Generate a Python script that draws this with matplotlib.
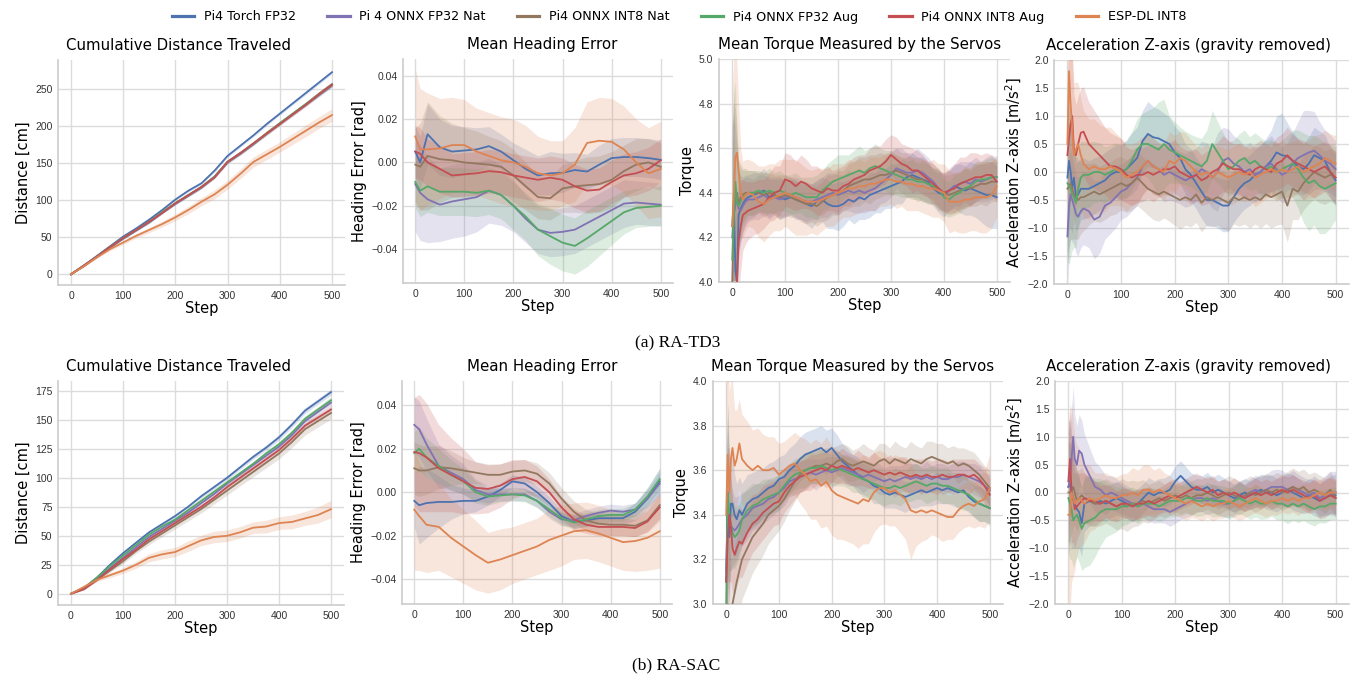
import numpy as np
import matplotlib
matplotlib.use("Agg")
import matplotlib.pyplot as plt
from matplotlib.ticker import MultipleLocator
from matplotlib.lines import Line2D

# ---------------- series ----------------
series_names = ["Pi4 Torch FP32", "Pi 4 ONNX FP32 Nat", "Pi4 ONNX INT8 Nat",
                "Pi4 ONNX FP32 Aug", "Pi4 ONNX INT8 Aug", "ESP-DL INT8"]
series_colors = ["#4C72B0", "#8172B3", "#937860", "#55A868", "#C44E52", "#DD8452"]

# ---------------- x steps ----------------
steps_dist = list(range(0, 501, 25))
steps_head = [0, 10, 25, 50, 75, 100, 125, 150, 175, 200, 225, 250, 275, 300,
              325, 350, 375, 400, 425, 450, 475, 500]
steps_noisy = [0, 3, 6, 9, 12, 16, 20, 25, 30] + list(range(40, 501, 10))

# ================= RA-TD3 : distance =================
td3_dist_torch = [0, 12, 25, 38, 51, 62, 74, 87, 101, 113, 123, 140, 160, 174, 188, 203, 217, 231, 245, 259, 273]
td3_dist_fp32nat = [0, 11, 24, 36, 48, 59, 70, 83, 95, 106, 117, 131, 151, 163, 176, 190, 203, 216, 229, 242, 255]
td3_dist_int8nat = [0, 12, 24, 37, 49, 60, 71, 84, 96, 107, 118, 132, 152, 164, 177, 191, 204, 217, 230, 244, 257]
td3_dist_fp32aug = [0, 12, 24, 37, 49, 60, 71, 84, 96, 107, 118, 132, 152, 164, 177, 190, 204, 217, 230, 243, 256]
td3_dist_int8aug = [0, 12, 24, 37, 49, 60, 71, 83, 96, 107, 118, 131, 152, 164, 177, 190, 203, 216, 229, 243, 256]
td3_dist_esp = [0, 11, 23, 34, 43, 52, 60, 68, 77, 87, 98, 108, 121, 136, 152, 162, 172, 183, 194, 205, 215]
td3_dist_torch_ci = [0, 0.5, 0.8, 1, 1, 1.2, 1.3, 1.4, 1.5, 1.6, 1.7, 1.8, 1.8, 1.9, 2, 2, 2, 2.1, 2.2, 2.2, 2.3]
td3_dist_fp32nat_ci = [0, 0.5, 0.8, 1, 1.1, 1.2, 1.3, 1.4, 1.5, 1.6, 1.7, 1.8, 1.9, 2, 2, 2.1, 2.2, 2.2, 2.3, 2.4, 2.5]
td3_dist_int8nat_ci = [0, 0.5, 0.8, 1, 1.1, 1.2, 1.3, 1.4, 1.5, 1.6, 1.7, 1.8, 1.9, 2, 2, 2.1, 2.2, 2.2, 2.3, 2.4, 2.5]
td3_dist_fp32aug_ci = [0, 0.5, 0.8, 1, 1.1, 1.2, 1.3, 1.4, 1.5, 1.6, 1.7, 1.8, 1.9, 2, 2, 2.1, 2.2, 2.2, 2.3, 2.4, 2.5]
td3_dist_int8aug_ci = [0, 0.5, 0.8, 1, 1.1, 1.2, 1.3, 1.4, 1.5, 1.6, 1.7, 1.8, 1.9, 2, 2, 2.1, 2.2, 2.2, 2.3, 2.4, 2.5]
td3_dist_esp_ci = [0, 1, 1.5, 2, 2.5, 3, 3.5, 4, 4.5, 5, 5.5, 6, 6, 6.5, 7, 7, 7, 7.5, 8, 8, 8.5]

# ================= RA-TD3 : heading =================
td3_head_torch = [0.005, 0.000, 0.013, 0.007, 0.005, 0.0055, 0.006, 0.0075, 0.005, 0.001, -0.003, -0.006, -0.005, -0.0048, -0.0035, -0.0042, -0.001, 0.002, 0.0025, 0.0025, 0.002, 0.0012]
td3_head_fp32nat = [-0.010, -0.014, -0.017, -0.0195, -0.018, -0.017, -0.016, -0.013, -0.015, -0.020, -0.026, -0.031, -0.0325, -0.032, -0.031, -0.028, -0.025, -0.022, -0.019, -0.0185, -0.019, -0.0195]
td3_head_int8nat = [-0.001, -0.002, 0.003, 0.0015, 0.001, 0.0, -0.0005, -0.001, -0.002, -0.006, -0.011, -0.016, -0.0165, -0.012, -0.011, -0.0105, -0.010, -0.008, -0.004, -0.001, 0.0, -0.002]
td3_head_fp32aug = [-0.009, -0.013, -0.011, -0.0135, -0.0135, -0.0135, -0.014, -0.013, -0.015, -0.020, -0.025, -0.031, -0.034, -0.037, -0.0385, -0.035, -0.031, -0.027, -0.023, -0.021, -0.0205, -0.020]
td3_head_int8aug = [0.005, 0.004, 0.0, -0.003, -0.006, -0.0055, -0.005, -0.004, -0.0045, -0.006, -0.007, -0.008, -0.007, -0.008, -0.011, -0.013, -0.0125, -0.009, -0.006, -0.005, -0.003, 0.001]
td3_head_esp = [0.012, 0.006, 0.006, 0.0065, 0.008, 0.008, 0.005, 0.003, 0.001, 0.0, -0.002, -0.005, -0.006, -0.005, -0.001, 0.009, 0.010, 0.0095, 0.006, 0.000, -0.005, -0.003]
td3_head_torch_ci = [0.012, 0.012, 0.014, 0.013, 0.012, 0.011, 0.010, 0.009, 0.008, 0.008, 0.009, 0.009, 0.010, 0.009, 0.008, 0.008, 0.009, 0.009, 0.009, 0.009, 0.009, 0.009]
td3_head_fp32nat_ci = [0.022, 0.022, 0.020, 0.017, 0.017, 0.017, 0.016, 0.015, 0.014, 0.012, 0.011, 0.011, 0.011, 0.011, 0.011, 0.011, 0.011, 0.011, 0.011, 0.010, 0.010, 0.010]
td3_head_int8nat_ci = [0.017, 0.020, 0.025, 0.020, 0.017, 0.016, 0.015, 0.013, 0.012, 0.012, 0.011, 0.010, 0.010, 0.011, 0.012, 0.013, 0.013, 0.013, 0.012, 0.012, 0.011, 0.011]
td3_head_fp32aug_ci = [0.012, 0.012, 0.012, 0.011, 0.011, 0.011, 0.011, 0.011, 0.011, 0.011, 0.011, 0.012, 0.013, 0.013, 0.013, 0.013, 0.012, 0.011, 0.010, 0.009, 0.009, 0.009]
td3_head_int8aug_ci = [0.012, 0.012, 0.011, 0.011, 0.010, 0.010, 0.010, 0.010, 0.010, 0.010, 0.010, 0.010, 0.010, 0.010, 0.010, 0.010, 0.010, 0.010, 0.010, 0.010, 0.010, 0.010]
td3_head_esp_ci = [0.031, 0.028, 0.026, 0.023, 0.022, 0.021, 0.020, 0.020, 0.020, 0.020, 0.019, 0.017, 0.016, 0.015, 0.017, 0.019, 0.020, 0.020, 0.020, 0.020, 0.021, 0.022]

# ================= RA-TD3 : torque =================
td3_torq_torch = [4.25, 4.36, 4.05, 4.00, 4.30, 4.33, 4.35, 4.37, 4.38,
                  4.39, 4.40, 4.41, 4.38, 4.39, 4.38, 4.37, 4.38, 4.37, 4.36,
                  4.35, 4.34, 4.36, 4.37, 4.35, 4.34, 4.34, 4.35, 4.37, 4.36,
                  4.38, 4.37, 4.39, 4.40, 4.41, 4.42, 4.43, 4.44, 4.45, 4.47,
                  4.48, 4.47, 4.46, 4.45, 4.42, 4.40, 4.39, 4.41, 4.43, 4.42,
                  4.41, 4.42, 4.41, 4.40, 4.39, 4.39, 4.38]
td3_torq_fp32nat = [4.20, 4.30, 4.35, 4.36, 4.33, 4.32, 4.34, 4.36, 4.37,
                    4.37, 4.38, 4.39, 4.37, 4.38, 4.37, 4.38, 4.39, 4.38, 4.37,
                    4.36, 4.36, 4.37, 4.38, 4.39, 4.40, 4.39, 4.40, 4.41, 4.40,
                    4.41, 4.40, 4.41, 4.42, 4.44, 4.46, 4.48, 4.51, 4.50, 4.49,
                    4.49, 4.50, 4.49, 4.47, 4.45, 4.42, 4.40, 4.41, 4.43, 4.44,
                    4.45, 4.44, 4.46, 4.45, 4.46, 4.47, 4.47]
td3_torq_int8nat = [4.00, 4.30, 4.38, 4.40, 4.35, 4.38, 4.39, 4.40, 4.40,
                    4.40, 4.40, 4.39, 4.40, 4.39, 4.38, 4.39, 4.38, 4.37, 4.36,
                    4.35, 4.35, 4.34, 4.36, 4.38, 4.39, 4.40, 4.41, 4.43, 4.44,
                    4.45, 4.46, 4.46, 4.47, 4.48, 4.48, 4.49, 4.50, 4.49, 4.48,
                    4.47, 4.46, 4.46, 4.44, 4.43, 4.41, 4.40, 4.39, 4.40, 4.41,
                    4.42, 4.42, 4.43, 4.44, 4.44, 4.45, 4.45]
td3_torq_fp32aug = [4.10, 4.30, 4.45, 4.36, 4.34, 4.36, 4.38, 4.39, 4.40,
                    4.40, 4.41, 4.40, 4.41, 4.40, 4.41, 4.40, 4.39, 4.40, 4.39,
                    4.38, 4.38, 4.38, 4.41, 4.43, 4.45, 4.46, 4.47, 4.48, 4.49,
                    4.50, 4.49, 4.51, 4.52, 4.51, 4.50, 4.49, 4.48, 4.47, 4.46,
                    4.46, 4.45, 4.45, 4.44, 4.43, 4.42, 4.38, 4.37, 4.39, 4.40,
                    4.42, 4.43, 4.45, 4.46, 4.46, 4.47, 4.47]
td3_torq_int8aug = [3.80, 3.85, 3.90, 4.00, 4.18, 4.25, 4.30, 4.31, 4.32,
                    4.33, 4.34, 4.35, 4.38, 4.40, 4.41, 4.46, 4.45, 4.43, 4.45,
                    4.44, 4.42, 4.41, 4.40, 4.42, 4.41, 4.41, 4.43, 4.44, 4.46,
                    4.47, 4.48, 4.50, 4.51, 4.52, 4.54, 4.57, 4.55, 4.53, 4.52,
                    4.50, 4.50, 4.48, 4.46, 4.44, 4.42, 4.40, 4.41, 4.42, 4.44,
                    4.45, 4.46, 4.47, 4.47, 4.48, 4.48, 4.45]
td3_torq_esp = [4.25, 4.40, 4.56, 4.58, 4.50, 4.40, 4.37, 4.39, 4.40,
                4.39, 4.36, 4.35, 4.37, 4.38, 4.39, 4.40, 4.39, 4.38, 4.37,
                4.36, 4.36, 4.36, 4.37, 4.38, 4.39, 4.40, 4.41, 4.42, 4.42,
                4.43, 4.43, 4.44, 4.44, 4.45, 4.46, 4.46, 4.45, 4.45, 4.44,
                4.44, 4.43, 4.43, 4.42, 4.42, 4.41, 4.40, 4.36, 4.36, 4.36,
                4.37, 4.37, 4.38, 4.38, 4.38, 4.39, 4.43]
td3_torq_torch_ci = [0.45, 0.50, 0.40, 0.30, 0.20, 0.15, 0.12, 0.11, 0.10,
                     0.10, 0.09, 0.10, 0.09, 0.08, 0.09, 0.08, 0.08, 0.09, 0.08,
                     0.09, 0.10, 0.09, 0.10, 0.11, 0.10, 0.11, 0.10, 0.09, 0.10,
                     0.10, 0.09, 0.10, 0.09, 0.10, 0.09, 0.10, 0.09, 0.10, 0.09,
                     0.10, 0.09, 0.10, 0.09, 0.08, 0.09, 0.10, 0.09, 0.10, 0.11,
                     0.11, 0.12, 0.12, 0.13, 0.14, 0.15, 0.14]
td3_torq_fp32nat_ci = [0.50, 0.45, 0.35, 0.25, 0.18, 0.14, 0.12, 0.11, 0.10,
                       0.09, 0.10, 0.09, 0.09, 0.08, 0.09, 0.09, 0.08, 0.09, 0.09,
                       0.09, 0.08, 0.09, 0.09, 0.10, 0.09, 0.09, 0.08, 0.09, 0.09,
                       0.10, 0.09, 0.09, 0.10, 0.09, 0.10, 0.10, 0.09, 0.10, 0.09,
                       0.09, 0.10, 0.09, 0.09, 0.08, 0.09, 0.08, 0.09, 0.09, 0.10,
                       0.09, 0.10, 0.10, 0.09, 0.10, 0.10, 0.09]
td3_torq_int8nat_ci = [0.55, 0.50, 0.40, 0.30, 0.20, 0.15, 0.12, 0.11, 0.10,
                       0.10, 0.09, 0.10, 0.09, 0.09, 0.10, 0.09, 0.09, 0.08, 0.09,
                       0.09, 0.08, 0.09, 0.09, 0.10, 0.09, 0.10, 0.09, 0.10, 0.10,
                       0.11, 0.10, 0.11, 0.10, 0.10, 0.09, 0.10, 0.10, 0.09, 0.10,
                       0.09, 0.10, 0.09, 0.09, 0.08, 0.09, 0.08, 0.09, 0.09, 0.08,
                       0.09, 0.08, 0.09, 0.09, 0.10, 0.09, 0.09]
td3_torq_fp32aug_ci = [0.50, 0.55, 0.45, 0.30, 0.20, 0.15, 0.12, 0.11, 0.10,
                       0.10, 0.09, 0.09, 0.10, 0.09, 0.09, 0.08, 0.09, 0.09, 0.08,
                       0.09, 0.09, 0.10, 0.09, 0.10, 0.10, 0.11, 0.10, 0.09, 0.10,
                       0.11, 0.10, 0.09, 0.10, 0.09, 0.09, 0.10, 0.09, 0.09, 0.08,
                       0.09, 0.08, 0.09, 0.09, 0.08, 0.09, 0.08, 0.08, 0.09, 0.09,
                       0.09, 0.08, 0.09, 0.08, 0.09, 0.09, 0.08]
td3_torq_int8aug_ci = [0.60, 0.55, 0.45, 0.35, 0.25, 0.20, 0.16, 0.14, 0.13,
                       0.12, 0.12, 0.11, 0.11, 0.12, 0.11, 0.12, 0.12, 0.11, 0.12,
                       0.11, 0.10, 0.11, 0.10, 0.10, 0.09, 0.10, 0.09, 0.10, 0.10,
                       0.10, 0.09, 0.10, 0.10, 0.09, 0.10, 0.09, 0.10, 0.09, 0.09,
                       0.10, 0.09, 0.09, 0.08, 0.09, 0.08, 0.09, 0.10, 0.11, 0.12,
                       0.11, 0.12, 0.11, 0.10, 0.10, 0.09, 0.09]
td3_torq_esp_ci = [0.60, 0.60, 0.50, 0.40, 0.30, 0.20, 0.17, 0.16, 0.15,
                   0.15, 0.16, 0.17, 0.16, 0.15, 0.16, 0.15, 0.16, 0.17, 0.16,
                   0.15, 0.14, 0.15, 0.14, 0.13, 0.14, 0.13, 0.12, 0.13, 0.12,
                   0.12, 0.11, 0.12, 0.12, 0.11, 0.12, 0.11, 0.12, 0.11, 0.12,
                   0.12, 0.11, 0.12, 0.12, 0.13, 0.12, 0.13, 0.14, 0.13, 0.14,
                   0.15, 0.14, 0.15, 0.16, 0.16, 0.15, 0.14]

# ================= RA-TD3 : acceleration =================
td3_acc_torch = [-0.10, 0.20, 0.00, -0.30, -0.10, -0.45, -0.40, -0.30, -0.30,
                 -0.30, -0.25, -0.20, -0.15, -0.05, 0.00, 0.00, 0.05, 0.15, 0.25,
                 0.55, 0.68, 0.62, 0.60, 0.55, 0.50, 0.35, 0.25, 0.05, -0.05,
                 -0.20, -0.35, -0.50, -0.50, -0.55, -0.60, -0.60, -0.45, -0.30, -0.20,
                 -0.15, -0.05, 0.00, 0.10, 0.20, 0.35, 0.30, 0.28, 0.20, 0.10,
                 0.05, 0.15, 0.30, 0.25, 0.20, 0.00, -0.15]
td3_acc_fp32nat = [-1.15, -0.60, -0.40, -0.50, -0.60, -0.75, -0.80, -0.70, -0.65,
                   -0.70, -0.85, -0.80, -0.60, -0.55, -0.45, -0.35, -0.30, -0.20, -0.10,
                   0.10, 0.20, 0.10, 0.05, -0.05, 0.00, -0.05, -0.10, -0.15, -0.10,
                   -0.05, 0.05, 0.00, -0.10, 0.00, 0.20, 0.25, 0.15, 0.10, 0.00,
                   0.05, -0.05, 0.00, 0.10, 0.15, 0.05, -0.05, 0.00, 0.15, 0.25,
                   0.30, 0.35, 0.38, 0.30, 0.20, 0.15, 0.05]
td3_acc_int8nat = [-0.30, -0.25, -0.20, -0.30, -0.40, -0.45, -0.50, -0.45, -0.45,
                   -0.40, -0.35, -0.40, -0.35, -0.30, -0.25, -0.20, -0.25, -0.20, -0.10,
                   -0.20, -0.30, -0.35, -0.40, -0.35, -0.40, -0.45, -0.50, -0.45, -0.50,
                   -0.40, -0.55, -0.45, -0.50, -0.45, -0.50, -0.55, -0.45, -0.50, -0.45,
                   -0.50, -0.45, -0.50, -0.40, -0.45, -0.40, -0.35, -0.60, -0.30, -0.35,
                   -0.20, -0.10, 0.00, -0.05, -0.10, -0.05, -0.10]
td3_acc_fp32aug = [-0.20, -0.25, -0.30, -0.40, -0.45, -0.55, -0.30, -0.10, -0.05,
                   -0.05, 0.00, 0.00, -0.05, 0.00, 0.05, 0.00, 0.05, 0.20, 0.40,
                   0.50, 0.50, 0.45, 0.40, 0.50, 0.40, 0.35, 0.30, 0.25, 0.20,
                   0.15, 0.10, 0.20, 0.50, 0.35, 0.20, 0.05, 0.10, 0.20, 0.25,
                   0.15, 0.20, 0.10, 0.05, 0.10, 0.00, 0.05, 0.10, 0.15, 0.05,
                   -0.10, -0.20, -0.15, -0.25, -0.30, -0.25, -0.20]
td3_acc_int8aug = [0.30, 0.60, 0.85, 1.00, 0.40, 0.30, 0.50, 0.70, 0.72,
                   0.50, 0.40, 0.30, 0.20, 0.10, 0.10, 0.05, -0.05, -0.10, -0.05,
                   -0.05, 0.00, -0.05, 0.00, 0.05, 0.05, 0.10, 0.00, -0.05, -0.10,
                   -0.05, -0.15, -0.10, 0.00, 0.05, 0.15, 0.10, 0.05, 0.05, 0.00,
                   -0.05, 0.05, 0.10, 0.05, 0.00, 0.15, 0.20, 0.30, 0.20, 0.15,
                   0.10, 0.05, 0.00, 0.05, 0.10, 0.00, -0.10]
td3_acc_esp = [0.50, 1.80, 1.20, 0.80, 0.30, 0.40, 0.50, 0.30, 0.15,
               0.05, 0.10, 0.05, 0.05, 0.10, 0.05, 0.00, -0.10, -0.05, 0.00,
               0.10, 0.20, 0.10, 0.05, 0.00, 0.20, 0.15, 0.25, 0.20, 0.10,
               0.00, -0.05, 0.00, -0.10, 0.00, -0.05, -0.10, -0.05, 0.00, -0.05,
               0.00, -0.10, -0.05, 0.00, 0.05, 0.00, 0.05, 0.00, 0.05, 0.10,
               0.00, 0.05, 0.10, 0.15, 0.25, 0.20, 0.15]
td3_acc_torch_ci = [1.50, 1.20, 1.00, 0.80, 0.70, 0.60, 0.60, 0.55, 0.55,
                    0.50, 0.50, 0.48, 0.50, 0.47, 0.48, 0.50, 0.52, 0.55, 0.55,
                    0.55, 0.58, 0.55, 0.52, 0.50, 0.48, 0.47, 0.46, 0.45, 0.47,
                    0.46, 0.48, 0.47, 0.46, 0.45, 0.47, 0.46, 0.45, 0.47, 0.46,
                    0.45, 0.46, 0.48, 0.50, 0.55, 0.65, 0.75, 0.60, 0.52, 0.48,
                    0.46, 0.48, 0.50, 0.48, 0.46, 0.45, 0.46]
td3_acc_fp32nat_ci = [1.00, 0.90, 0.80, 0.75, 0.70, 0.70, 0.70, 0.65, 0.65,
                      0.65, 0.70, 0.65, 0.60, 0.55, 0.55, 0.50, 0.50, 0.50, 0.50,
                      0.50, 0.48, 0.50, 0.47, 0.48, 0.50, 0.48, 0.47, 0.48, 0.50,
                      0.48, 0.50, 0.52, 0.55, 0.70, 0.60, 0.52, 0.50, 0.48, 0.47,
                      0.48, 0.50, 0.48, 0.47, 0.50, 0.48, 0.50, 0.52, 0.55, 0.65,
                      0.80, 0.75, 0.70, 0.60, 0.55, 0.52, 0.50]
td3_acc_int8nat_ci = [1.20, 1.10, 1.00, 0.90, 0.80, 0.75, 0.70, 0.65, 0.60,
                      0.55, 0.52, 0.50, 0.50, 0.48, 0.50, 0.48, 0.47, 0.48, 0.50,
                      0.48, 0.47, 0.50, 0.48, 0.47, 0.48, 0.50, 0.52, 0.50, 0.48,
                      0.50, 0.52, 0.50, 0.48, 0.50, 0.52, 0.50, 0.48, 0.47, 0.48,
                      0.50, 0.48, 0.50, 0.52, 0.55, 0.55, 0.58, 0.65, 0.55, 0.50,
                      0.48, 0.47, 0.48, 0.50, 0.48, 0.47, 0.48]
td3_acc_fp32aug_ci = [1.40, 1.40, 1.20, 1.00, 0.90, 0.80, 0.70, 0.65, 0.60,
                      0.58, 0.55, 0.52, 0.50, 0.48, 0.47, 0.48, 0.50, 0.52, 0.55,
                      0.55, 0.60, 0.70, 0.85, 0.80, 0.60, 0.55, 0.50, 0.48, 0.47,
                      0.48, 0.50, 0.55, 0.60, 0.55, 0.50, 0.48, 0.47, 0.48, 0.50,
                      0.48, 0.50, 0.52, 0.50, 0.48, 0.50, 0.52, 0.55, 0.60, 0.70,
                      0.80, 0.85, 0.80, 0.85, 0.80, 0.75, 0.65]
td3_acc_int8aug_ci = [1.50, 1.50, 1.30, 1.10, 1.00, 0.90, 0.85, 0.80, 0.80,
                      0.75, 0.70, 0.65, 0.60, 0.60, 0.55, 0.55, 0.50, 0.50, 0.50,
                      0.48, 0.47, 0.48, 0.46, 0.45, 0.47, 0.48, 0.46, 0.45, 0.47,
                      0.46, 0.45, 0.47, 0.46, 0.48, 0.50, 0.47, 0.45, 0.46, 0.48,
                      0.46, 0.45, 0.47, 0.46, 0.45, 0.47, 0.48, 0.50, 0.47, 0.45,
                      0.46, 0.45, 0.47, 0.46, 0.45, 0.47, 0.46]
td3_acc_esp_ci = [1.80, 1.60, 1.50, 1.40, 1.30, 1.20, 1.10, 1.00, 0.95,
                  0.90, 0.85, 0.80, 0.75, 0.70, 0.65, 0.60, 0.60, 0.55, 0.55,
                  0.52, 0.50, 0.50, 0.48, 0.50, 0.52, 0.50, 0.48, 0.50, 0.48,
                  0.47, 0.48, 0.50, 0.48, 0.47, 0.48, 0.50, 0.52, 0.50, 0.48,
                  0.50, 0.52, 0.50, 0.48, 0.50, 0.52, 0.50, 0.48, 0.50, 0.48,
                  0.50, 0.52, 0.55, 0.52, 0.50, 0.48, 0.50]

# ================= RA-SAC : distance =================
sac_dist_torch = [0, 5, 14, 25, 35, 44, 53, 60, 67, 75, 84, 92, 100, 109, 118, 126, 135, 146, 158, 166, 174]
sac_dist_fp32nat = [0, 5, 13, 22, 31, 40, 49, 56, 63, 70, 78, 86, 95, 103, 111, 119, 127, 137, 149, 157, 165]
sac_dist_int8nat = [0, 4, 12, 20, 28, 37, 45, 52, 59, 66, 73, 81, 89, 97, 105, 113, 121, 131, 142, 149, 156]
sac_dist_fp32aug = [0, 5, 14, 24, 33, 42, 51, 58, 64, 72, 80, 88, 96, 104, 112, 121, 129, 139, 151, 159, 167]
sac_dist_int8aug = [0, 4, 12, 21, 30, 38, 47, 54, 61, 68, 75, 83, 92, 100, 108, 116, 124, 134, 145, 152, 159]
sac_dist_esp = [0, 6, 12, 16, 20, 25, 31, 34, 36, 41, 46, 49, 50, 53, 57, 58, 61, 62, 65, 68, 73]
sac_dist_torch_ci = [0, 0.5, 0.8, 1, 1.2, 1.3, 1.4, 1.5, 1.6, 1.7, 1.8, 1.9, 2, 2, 2.1, 2.2, 2.3, 2.4, 2.5, 2.5, 2.6]
sac_dist_fp32nat_ci = [0, 0.5, 0.8, 1, 1.2, 1.3, 1.4, 1.5, 1.6, 1.7, 1.8, 1.9, 2, 2.1, 2.2, 2.3, 2.4, 2.5, 2.6, 2.7, 2.8]
sac_dist_int8nat_ci = [0, 0.8, 1.2, 1.6, 2, 2.3, 2.6, 2.8, 3, 3.2, 3.4, 3.6, 3.8, 4, 4.2, 4.4, 4.6, 4.8, 5, 5.1, 5.2]
sac_dist_fp32aug_ci = [0, 0.5, 0.8, 1, 1.2, 1.3, 1.4, 1.5, 1.6, 1.7, 1.8, 1.9, 2, 2.1, 2.2, 2.3, 2.4, 2.5, 2.6, 2.7, 2.8]
sac_dist_int8aug_ci = [0, 0.5, 0.8, 1, 1.2, 1.4, 1.5, 1.6, 1.8, 1.9, 2, 2.1, 2.2, 2.3, 2.4, 2.5, 2.6, 2.7, 2.8, 2.9, 3]
sac_dist_esp_ci = [0, 1, 1.5, 2, 2.5, 3, 3.5, 4, 4, 4.5, 4.5, 5, 5, 5, 5, 5.5, 5.5, 6, 6, 7, 7.5]

# ================= RA-SAC : heading =================
sac_head_torch = [-0.004, -0.006, -0.005, -0.0045, -0.0045, -0.004, -0.004, -0.002, 0.001, 0.005, 0.004, 0.0, -0.005, -0.011, -0.0135, -0.013, -0.012, -0.012, -0.012, -0.009, -0.003, 0.005]
sac_head_fp32nat = [0.031, 0.029, 0.022, 0.012, 0.009, 0.006, 0.001, -0.001, -0.001, -0.001, -0.001, -0.004, -0.009, -0.0125, -0.013, -0.011, -0.0095, -0.0085, -0.009, -0.008, -0.003, 0.004]
sac_head_int8nat = [0.011, 0.010, 0.010, 0.0115, 0.011, 0.010, 0.009, 0.008, 0.008, 0.0095, 0.010, 0.0085, 0.004, -0.003, -0.009, -0.013, -0.0145, -0.015, -0.015, -0.0155, -0.013, -0.006]
sac_head_fp32aug = [0.018, 0.020, 0.016, 0.012, 0.008, 0.005, 0.0, -0.002, -0.0015, -0.001, -0.0015, -0.004, -0.008, -0.012, -0.014, -0.0125, -0.011, -0.0105, -0.0105, -0.008, -0.002, 0.006]
sac_head_int8aug = [0.0185, 0.018, 0.016, 0.011, 0.008, 0.005, 0.002, 0.0015, 0.003, 0.006, 0.007, 0.005, 0.0, -0.007, -0.0125, -0.015, -0.016, -0.016, -0.016, -0.0165, -0.0135, -0.007]
sac_head_esp = [-0.008, -0.011, -0.015, -0.016, -0.021, -0.025, -0.029, -0.0325, -0.031, -0.029, -0.027, -0.025, -0.022, -0.020, -0.018, -0.0175, -0.019, -0.021, -0.023, -0.0225, -0.021, -0.018]
sac_head_torch_ci = [0.012, 0.018, 0.016, 0.012, 0.008, 0.006, 0.005, 0.004, 0.003, 0.003, 0.003, 0.003, 0.003, 0.003, 0.003, 0.003, 0.003, 0.003, 0.003, 0.004, 0.005, 0.006]
sac_head_fp32nat_ci = [0.013, 0.013, 0.012, 0.010, 0.008, 0.007, 0.005, 0.004, 0.003, 0.003, 0.003, 0.003, 0.003, 0.003, 0.003, 0.003, 0.003, 0.003, 0.003, 0.003, 0.004, 0.005]
sac_head_int8nat_ci = [0.012, 0.012, 0.011, 0.010, 0.008, 0.006, 0.005, 0.005, 0.005, 0.005, 0.005, 0.005, 0.005, 0.005, 0.005, 0.005, 0.005, 0.005, 0.005, 0.005, 0.005, 0.006]
sac_head_fp32aug_ci = [0.010, 0.010, 0.009, 0.008, 0.007, 0.006, 0.005, 0.004, 0.003, 0.003, 0.003, 0.003, 0.003, 0.003, 0.003, 0.003, 0.003, 0.003, 0.003, 0.003, 0.004, 0.005]
sac_head_int8aug_ci = [0.025, 0.027, 0.025, 0.020, 0.017, 0.015, 0.012, 0.011, 0.010, 0.009, 0.008, 0.007, 0.006, 0.005, 0.005, 0.004, 0.004, 0.004, 0.004, 0.004, 0.005, 0.006]
sac_head_esp_ci = [0.028, 0.025, 0.022, 0.020, 0.018, 0.017, 0.016, 0.014, 0.014, 0.013, 0.013, 0.013, 0.014, 0.014, 0.013, 0.013, 0.013, 0.013, 0.013, 0.014, 0.015, 0.017]

# ================= RA-SAC : torque =================
sac_torq_torch = [3.10, 3.50, 3.30, 3.45, 3.45, 3.40, 3.38, 3.42, 3.40,
                  3.45, 3.47, 3.48, 3.50, 3.52, 3.53, 3.56, 3.57, 3.60, 3.62,
                  3.65, 3.67, 3.68, 3.69, 3.70, 3.68, 3.70, 3.67, 3.64, 3.62,
                  3.60, 3.58, 3.56, 3.55, 3.53, 3.52, 3.50, 3.49, 3.50, 3.49,
                  3.48, 3.49, 3.50, 3.51, 3.50, 3.51, 3.52, 3.51, 3.52, 3.51,
                  3.50, 3.51, 3.48, 3.46, 3.45, 3.44, 3.43]
sac_torq_fp32nat = [3.15, 3.45, 3.40, 3.35, 3.34, 3.33, 3.34, 3.36, 3.38,
                    3.40, 3.43, 3.44, 3.45, 3.47, 3.48, 3.50, 3.52, 3.55, 3.56,
                    3.57, 3.58, 3.59, 3.58, 3.59, 3.60, 3.59, 3.60, 3.61, 3.60,
                    3.59, 3.58, 3.57, 3.58, 3.57, 3.56, 3.55, 3.56, 3.55, 3.56,
                    3.57, 3.56, 3.57, 3.56, 3.57, 3.56, 3.57, 3.56, 3.56, 3.57,
                    3.57, 3.58, 3.57, 3.56, 3.55, 3.53, 3.51]
sac_torq_int8nat = [2.90, 3.00, 2.95, 2.95, 3.00, 3.05, 3.10, 3.15, 3.20,
                    3.25, 3.30, 3.33, 3.36, 3.40, 3.42, 3.44, 3.47, 3.51, 3.55,
                    3.58, 3.60, 3.61, 3.62, 3.62, 3.63, 3.62, 3.64, 3.65, 3.63,
                    3.62, 3.63, 3.64, 3.63, 3.62, 3.64, 3.65, 3.63, 3.65, 3.64,
                    3.63, 3.65, 3.64, 3.63, 3.65, 3.66, 3.65, 3.64, 3.63, 3.64,
                    3.62, 3.63, 3.62, 3.60, 3.58, 3.55, 3.52]
sac_torq_fp32aug = [3.00, 3.50, 3.40, 3.35, 3.32, 3.30, 3.31, 3.33, 3.38,
                    3.42, 3.44, 3.45, 3.47, 3.48, 3.49, 3.50, 3.53, 3.56, 3.58,
                    3.59, 3.60, 3.61, 3.61, 3.62, 3.61, 3.60, 3.61, 3.60, 3.59,
                    3.58, 3.57, 3.56, 3.55, 3.54, 3.53, 3.52, 3.52, 3.53, 3.52,
                    3.53, 3.54, 3.55, 3.54, 3.53, 3.54, 3.54, 3.53, 3.53, 3.52,
                    3.51, 3.50, 3.49, 3.47, 3.45, 3.44, 3.43]
sac_torq_int8aug = [3.10, 3.30, 3.40, 3.35, 3.25, 3.22, 3.25, 3.28, 3.27,
                    3.32, 3.36, 3.38, 3.41, 3.43, 3.45, 3.46, 3.50, 3.53, 3.55,
                    3.57, 3.58, 3.59, 3.60, 3.61, 3.60, 3.62, 3.61, 3.62, 3.61,
                    3.60, 3.61, 3.60, 3.59, 3.60, 3.59, 3.58, 3.59, 3.58, 3.59,
                    3.58, 3.57, 3.58, 3.57, 3.58, 3.57, 3.57, 3.58, 3.57, 3.57,
                    3.58, 3.58, 3.57, 3.58, 3.56, 3.53, 3.49]
sac_torq_esp = [3.40, 3.67, 3.50, 3.65, 3.70, 3.62, 3.65, 3.72, 3.65,
                3.62, 3.60, 3.62, 3.60, 3.60, 3.61, 3.58, 3.60, 3.62, 3.63,
                3.60, 3.58, 3.55, 3.56, 3.53, 3.55, 3.51, 3.49, 3.48, 3.47,
                3.46, 3.45, 3.47, 3.46, 3.50, 3.52, 3.52, 3.50, 3.51, 3.49,
                3.47, 3.42, 3.41, 3.42, 3.41, 3.42, 3.41, 3.40, 3.39, 3.39,
                3.42, 3.44, 3.45, 3.44, 3.46, 3.47, 3.52]
sac_torq_torch_ci = [0.60, 0.40, 0.30, 0.25, 0.20, 0.18, 0.16, 0.15, 0.14,
                     0.13, 0.12, 0.12, 0.11, 0.11, 0.11, 0.10, 0.10, 0.10, 0.10,
                     0.10, 0.10, 0.10, 0.10, 0.10, 0.10, 0.09, 0.09, 0.08, 0.08,
                     0.07, 0.08, 0.07, 0.07, 0.08, 0.07, 0.07, 0.06, 0.07, 0.07,
                     0.07, 0.06, 0.07, 0.07, 0.06, 0.07, 0.07, 0.06, 0.07, 0.07,
                     0.07, 0.08, 0.07, 0.07, 0.08, 0.07, 0.07]
sac_torq_fp32nat_ci = [0.50, 0.35, 0.25, 0.20, 0.17, 0.15, 0.14, 0.13, 0.12,
                       0.11, 0.10, 0.10, 0.09, 0.09, 0.08, 0.08, 0.08, 0.07, 0.07,
                       0.07, 0.07, 0.06, 0.07, 0.06, 0.06, 0.07, 0.06, 0.06, 0.07,
                       0.06, 0.06, 0.07, 0.06, 0.06, 0.07, 0.06, 0.06, 0.07, 0.06,
                       0.06, 0.07, 0.06, 0.06, 0.07, 0.06, 0.06, 0.07, 0.06, 0.06,
                       0.07, 0.06, 0.06, 0.07, 0.07, 0.06, 0.07]
sac_torq_int8nat_ci = [0.50, 0.40, 0.30, 0.25, 0.22, 0.20, 0.20, 0.19, 0.18,
                       0.17, 0.16, 0.15, 0.14, 0.13, 0.12, 0.11, 0.10, 0.09, 0.09,
                       0.08, 0.08, 0.07, 0.08, 0.07, 0.07, 0.08, 0.07, 0.07, 0.08,
                       0.07, 0.07, 0.08, 0.07, 0.07, 0.08, 0.07, 0.07, 0.08, 0.07,
                       0.07, 0.08, 0.07, 0.07, 0.08, 0.07, 0.07, 0.08, 0.07, 0.07,
                       0.08, 0.07, 0.07, 0.08, 0.07, 0.07, 0.08]
sac_torq_fp32aug_ci = [0.50, 0.40, 0.30, 0.20, 0.16, 0.14, 0.13, 0.12, 0.11,
                       0.10, 0.10, 0.09, 0.09, 0.08, 0.08, 0.08, 0.07, 0.07, 0.07,
                       0.07, 0.08, 0.07, 0.07, 0.08, 0.07, 0.07, 0.08, 0.07, 0.07,
                       0.08, 0.07, 0.08, 0.08, 0.07, 0.08, 0.08, 0.07, 0.08, 0.08,
                       0.07, 0.08, 0.08, 0.07, 0.08, 0.08, 0.07, 0.08, 0.08, 0.07,
                       0.08, 0.08, 0.07, 0.08, 0.08, 0.07, 0.08]
sac_torq_int8aug_ci = [0.50, 0.40, 0.30, 0.25, 0.20, 0.18, 0.17, 0.16, 0.15,
                       0.14, 0.13, 0.12, 0.12, 0.11, 0.10, 0.10, 0.09, 0.09, 0.08,
                       0.07, 0.07, 0.08, 0.07, 0.07, 0.08, 0.07, 0.07, 0.08, 0.07,
                       0.07, 0.08, 0.07, 0.07, 0.08, 0.07, 0.07, 0.08, 0.07, 0.07,
                       0.08, 0.07, 0.07, 0.08, 0.07, 0.07, 0.08, 0.07, 0.07, 0.08,
                       0.07, 0.07, 0.08, 0.07, 0.07, 0.08, 0.07]
sac_torq_esp_ci = [0.60, 0.50, 0.45, 0.35, 0.30, 0.25, 0.22, 0.20, 0.20,
                   0.20, 0.18, 0.17, 0.16, 0.15, 0.14, 0.14, 0.13, 0.13, 0.14,
                   0.15, 0.16, 0.17, 0.18, 0.19, 0.20, 0.20, 0.20, 0.19, 0.19,
                   0.19, 0.20, 0.20, 0.19, 0.18, 0.17, 0.16, 0.15, 0.16, 0.17,
                   0.18, 0.22, 0.15, 0.14, 0.12, 0.11, 0.11, 0.12, 0.10, 0.10,
                   0.10, 0.10, 0.10, 0.10, 0.11, 0.13, 0.15]

# ================= RA-SAC : acceleration =================
sac_acc_torch = [0.10, 0.20, 0.00, -0.10, -0.20, -0.30, -0.35, -0.55, -0.20,
                 -0.15, -0.20, -0.15, -0.20, -0.15, -0.10, -0.15, -0.20, -0.25, -0.20,
                 -0.10, 0.00, -0.05, 0.00, 0.00, 0.05, 0.20, 0.30, 0.20, 0.10,
                 0.05, 0.05, 0.10, 0.00, 0.05, 0.00, -0.05, -0.10, -0.05, 0.00,
                 -0.05, 0.00, 0.05, 0.00, 0.00, -0.05, 0.00, 0.05, 0.00, -0.05,
                 -0.10, -0.05, -0.10, -0.15, -0.10, -0.05, -0.05]
sac_acc_fp32nat = [0.10, 0.20, 0.60, 1.00, 0.60, 0.50, 0.75, 0.70, 0.50,
                   0.30, 0.10, 0.05, -0.05, 0.00, -0.05, -0.10, -0.15, -0.20, -0.25,
                   -0.20, -0.25, -0.30, -0.30, -0.30, -0.35, -0.30, -0.25, -0.20, -0.15,
                   -0.10, -0.10, -0.15, -0.10, -0.15, -0.20, -0.20, -0.15, -0.05, -0.10,
                   0.00, 0.05, 0.00, 0.05, 0.10, 0.10, 0.10, 0.05, 0.10, 0.05,
                   0.00, -0.05, 0.00, -0.10, -0.05, 0.00, 0.00]
sac_acc_int8nat = [0.00, 0.00, 0.05, 0.10, 0.00, -0.15, -0.10, -0.05, -0.10,
                   -0.15, -0.20, -0.20, -0.15, -0.20, -0.25, -0.20, -0.25, -0.20, -0.20,
                   -0.15, -0.20, -0.15, -0.10, -0.15, -0.10, -0.05, -0.10, -0.05, -0.10,
                   -0.05, -0.05, 0.00, -0.05, -0.10, -0.05, 0.00, -0.05, -0.10, -0.05,
                   0.00, -0.05, 0.00, 0.05, 0.00, 0.05, 0.00, 0.05, 0.10, 0.05,
                   0.10, 0.00, 0.05, 0.00, -0.05, 0.05, -0.10]
sac_acc_fp32aug = [-0.10, -0.20, -0.30, -0.50, -0.45, -0.40, -0.50, -0.65, -0.55,
                   -0.50, -0.45, -0.35, -0.30, -0.30, -0.30, -0.25, -0.25, -0.20, -0.25,
                   -0.20, -0.20, -0.20, -0.25, -0.20, -0.15, -0.15, -0.15, -0.10, -0.10,
                   -0.15, -0.15, -0.10, -0.15, -0.15, -0.15, -0.20, -0.15, -0.10, -0.15,
                   -0.20, -0.15, -0.20, -0.20, -0.15, -0.20, -0.20, -0.25, -0.20, -0.25,
                   -0.20, -0.25, -0.30, -0.25, -0.25, -0.20, -0.20]
sac_acc_int8aug = [0.20, 0.60, 0.00, -0.10, -0.30, -0.25, -0.20, -0.15, -0.10,
                   -0.15, -0.15, -0.20, -0.15, -0.20, -0.25, -0.20, -0.20, -0.25, -0.20,
                   -0.20, -0.15, -0.20, -0.15, -0.10, -0.05, -0.10, -0.05, 0.00, 0.05,
                   0.10, 0.05, 0.00, 0.05, -0.05, 0.00, -0.05, 0.00, -0.05, -0.10,
                   -0.05, 0.00, -0.05, 0.00, -0.05, 0.00, 0.05, 0.00, 0.05, 0.00,
                   -0.05, -0.10, -0.05, -0.15, -0.10, -0.05, -0.10]
sac_acc_esp = [-0.40, -0.40, 0.00, -0.10, -0.20, -0.15, -0.10, -0.15, -0.20,
               -0.10, -0.15, -0.10, -0.05, -0.10, -0.10, -0.05, -0.05, 0.00, -0.05,
               0.05, 0.05, 0.00, 0.05, 0.00, -0.05, -0.10, -0.15, -0.20, -0.15,
               -0.20, -0.25, -0.20, -0.25, -0.20, -0.20, -0.15, -0.20, -0.25, -0.20,
               -0.15, -0.10, -0.15, -0.20, -0.15, -0.15, -0.10, -0.15, -0.10, -0.15,
               -0.10, -0.10, -0.05, 0.00, -0.05, 0.00, 0.00]
sac_acc_torch_ci = [1.20, 1.10, 1.00, 0.90, 0.80, 0.70, 0.65, 0.60, 0.50,
                    0.45, 0.40, 0.35, 0.32, 0.30, 0.30, 0.28, 0.27, 0.28, 0.27,
                    0.26, 0.27, 0.26, 0.25, 0.26, 0.27, 0.28, 0.27, 0.26, 0.25,
                    0.26, 0.25, 0.26, 0.27, 0.28, 0.27, 0.26, 0.25, 0.26, 0.25,
                    0.26, 0.27, 0.28, 0.30, 0.32, 0.30, 0.28, 0.30, 0.32, 0.30,
                    0.28, 0.30, 0.32, 0.30, 0.32, 0.35, 0.38]
sac_acc_fp32nat_ci = [1.00, 1.00, 0.90, 0.90, 0.80, 0.70, 0.65, 0.60, 0.55,
                      0.50, 0.45, 0.40, 0.35, 0.30, 0.30, 0.28, 0.27, 0.26, 0.25,
                      0.25, 0.26, 0.25, 0.24, 0.25, 0.26, 0.25, 0.24, 0.25, 0.26,
                      0.25, 0.24, 0.25, 0.26, 0.25, 0.24, 0.25, 0.26, 0.25, 0.24,
                      0.25, 0.26, 0.27, 0.28, 0.30, 0.32, 0.30, 0.28, 0.30, 0.28,
                      0.27, 0.28, 0.30, 0.32, 0.35, 0.38, 0.38]
sac_acc_int8nat_ci = [0.90, 0.90, 0.80, 0.70, 0.60, 0.55, 0.50, 0.50, 0.45,
                      0.45, 0.40, 0.40, 0.40, 0.40, 0.42, 0.45, 0.45, 0.42, 0.40,
                      0.38, 0.35, 0.33, 0.32, 0.30, 0.31, 0.30, 0.29, 0.30, 0.31,
                      0.30, 0.29, 0.30, 0.31, 0.30, 0.29, 0.30, 0.31, 0.30, 0.29,
                      0.30, 0.31, 0.30, 0.29, 0.30, 0.31, 0.32, 0.33, 0.34, 0.33,
                      0.32, 0.33, 0.32, 0.31, 0.32, 0.33, 0.32]
sac_acc_fp32aug_ci = [1.00, 1.00, 0.90, 0.85, 0.80, 0.75, 0.75, 0.75, 0.80,
                      0.80, 0.70, 0.60, 0.50, 0.45, 0.40, 0.35, 0.32, 0.30, 0.30,
                      0.28, 0.29, 0.28, 0.27, 0.28, 0.29, 0.28, 0.27, 0.28, 0.29,
                      0.28, 0.27, 0.28, 0.29, 0.28, 0.27, 0.28, 0.29, 0.28, 0.27,
                      0.28, 0.29, 0.28, 0.27, 0.28, 0.29, 0.30, 0.31, 0.30, 0.29,
                      0.30, 0.31, 0.30, 0.29, 0.30, 0.29, 0.28]
sac_acc_int8aug_ci = [1.00, 1.00, 0.90, 0.80, 0.70, 0.60, 0.55, 0.50, 0.45,
                      0.40, 0.35, 0.32, 0.30, 0.30, 0.28, 0.27, 0.27, 0.26, 0.26,
                      0.25, 0.26, 0.25, 0.24, 0.25, 0.26, 0.25, 0.24, 0.25, 0.26,
                      0.25, 0.24, 0.25, 0.26, 0.25, 0.24, 0.25, 0.26, 0.25, 0.24,
                      0.25, 0.26, 0.25, 0.24, 0.25, 0.26, 0.27, 0.28, 0.27, 0.26,
                      0.27, 0.28, 0.30, 0.32, 0.35, 0.32, 0.30]
sac_acc_esp_ci = [1.50, 1.80, 1.60, 1.40, 1.20, 1.00, 0.90, 0.80, 0.70,
                  0.60, 0.50, 0.45, 0.40, 0.40, 0.38, 0.38, 0.40, 0.45, 0.45,
                  0.45, 0.45, 0.40, 0.40, 0.35, 0.35, 0.30, 0.30, 0.30, 0.30,
                  0.27, 0.26, 0.25, 0.26, 0.27, 0.26, 0.25, 0.26, 0.25, 0.26,
                  0.25, 0.26, 0.25, 0.24, 0.25, 0.26, 0.25, 0.24, 0.25, 0.26,
                  0.25, 0.26, 0.25, 0.24, 0.25, 0.26, 0.25]

# ---------------- text ----------------
panel_titles = ["Cumulative Distance Traveled", "Mean Heading Error",
                "Mean Torque Measured by the Servos", "Acceleration Z-axis (gravity removed)"]
panel_ylabels = ["Distance [cm]", "Heading Error [rad]", "Torque",
                 "Acceleration Z-axis [m/s$^2$]"]
xlabel_text = "Step"
x_ticks = [0, 100, 200, 300, 400, 500]
captions = ["(a) RA-TD3", "(b) RA-SAC"]

# ---------------- assemble ----------------
def group(prefix):
    keys = ["torch", "fp32nat", "int8nat", "fp32aug", "int8aug", "esp"]
    g = globals()
    means = [g[f"{prefix}_{k}"] for k in keys]
    cis = [g[f"{prefix}_{k}_ci"] for k in keys]
    return means, cis

panels = [
    # (row, col, x, prefix, ylim, ymajor)
    (0, 0, steps_dist, "td3_dist", (-14.5, 289.5), 50),
    (0, 1, steps_head, "td3_head", (-0.0556, 0.0477), 0.02),
    (0, 2, steps_noisy, "td3_torq", (4.0, 5.0), 0.2),
    (0, 3, steps_noisy, "td3_acc", (-2.0, 2.0), 0.5),
    (1, 0, steps_dist, "sac_dist", (-9.7, 183.6), 25),
    (1, 1, steps_head, "sac_head", (-0.0515, 0.0512), 0.02),
    (1, 2, steps_noisy, "sac_torq", (3.0, 4.0), 0.2),
    (1, 3, steps_noisy, "sac_acc", (-2.0, 2.0), 0.5),
]

W, H = 1357, 681
# axes boxes in pixels (left, top, right, bottom)
boxes = {
    (0, 0): (58, 60, 345, 285), (0, 1): (403, 59, 673, 283),
    (0, 2): (719, 59, 1010, 282), (0, 3): (1054, 60, 1349, 284),
    (1, 0): (58, 381, 344, 605), (1, 1): (402, 381, 672, 604),
    (1, 2): (713, 381, 1003, 604), (1, 3): (1055, 381, 1349, 604),
}
# horizontal centre of each panel title (pixels)
title_cx = {
    (0, 0): 179, (0, 1): 542, (0, 2): 860, (0, 3): 1188,
    (1, 0): 179, (1, 1): 542, (1, 2): 853, (1, 3): 1188,
}

fig = plt.figure(figsize=(W / 100, H / 100), dpi=100)
fig.patch.set_facecolor("white")

for row, col, xs, prefix, ylim, ymaj in panels:
    l, t, r, b = boxes[(row, col)]
    ax = fig.add_axes([l / W, 1 - b / H, (r - l) / W, (b - t) / H])
    means, cis = group(prefix)
    for m, c, colr in zip(means, cis, series_colors):
        m = np.asarray(m, float)
        c = np.asarray(c, float)
        assert len(m) == len(xs) and len(c) == len(xs), (prefix, len(m), len(c), len(xs))
        ax.plot(xs, m, color=colr, lw=1.3, zorder=3)
        ax.fill_between(xs, m - c, m + c, color=colr, alpha=0.2, lw=0, zorder=2)
    ax.set_xlim(-25, 525)
    ax.set_ylim(*ylim)
    ax.set_xticks(x_ticks)
    ax.yaxis.set_major_locator(MultipleLocator(ymaj))
    ax.grid(True, color="#dcdcdc", lw=1.0, zorder=0)
    ax.set_axisbelow(True)
    for s in ("top", "right"):
        ax.spines[s].set_visible(False)
    for s in ("left", "bottom"):
        ax.spines[s].set_color("#cccccc")
        ax.spines[s].set_linewidth(1.2)
    ax.tick_params(length=0, labelsize=7.5, labelcolor="#333333",
                   labelfontfamily="Liberation Sans", pad=4)
    tx = (title_cx[(row, col)] - l) / (r - l)
    ax.set_title(panel_titles[col], fontsize=10.8, family="DejaVu Sans", pad=7, x=tx)
    ax.set_xlabel(xlabel_text, fontsize=10.5, family="DejaVu Sans", labelpad=0)
    ax.set_ylabel(panel_ylabels[col], fontsize=10.5, family="DejaVu Sans", labelpad=3)

handles = [Line2D([0], [0], color=c, lw=2.3) for c in series_colors]
fig.legend(handles, series_names, loc="center left", bbox_to_anchor=(172 / W, 1 - 17 / H),
           ncol=6, frameon=False, prop={"family": "DejaVu Sans", "size": 9.2},
           handlelength=1.75, handletextpad=0.75, columnspacing=2.45,
           borderpad=0, borderaxespad=0)

fig.text(678 / W, 1 - 343 / H, captions[0], ha="center", va="center",
         family="Liberation Serif", fontsize=12.5)
fig.text(676 / W, 1 - 665 / H, captions[1], ha="center", va="center",
         family="Liberation Serif", fontsize=12.5)

fig.savefig("out.png", dpi=100, facecolor="white")
